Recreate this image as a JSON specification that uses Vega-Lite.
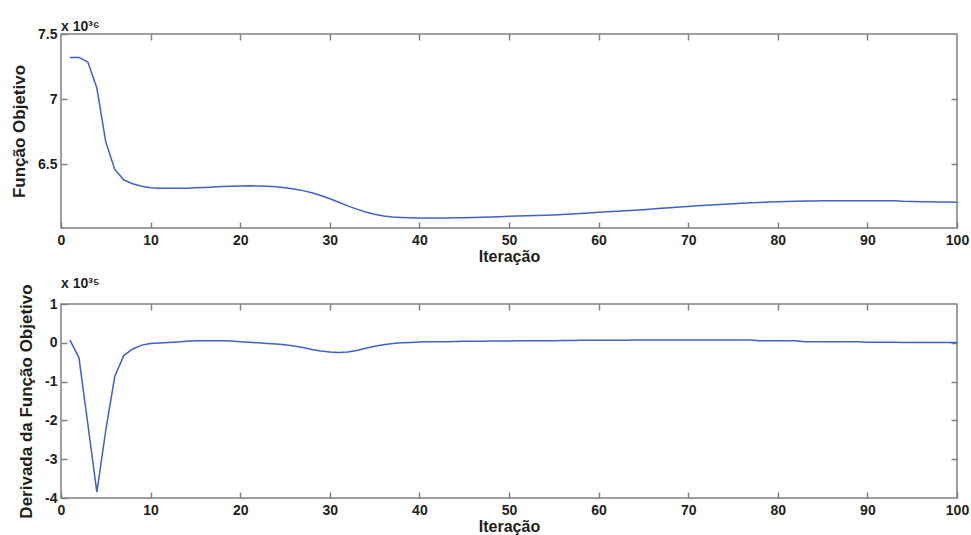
{
  "$schema": "https://vega.github.io/schema/vega-lite/v6.json",
  "background": "white",
  "padding": {"left": 9, "top": 19, "right": 0, "bottom": 0},
  "spacing": 11,
  "config": {
    "font": "Liberation Sans",
    "view": {"stroke": "#808080", "strokeWidth": 1.5},
    "axis": {
      "grid": false,
      "domain": false,
      "labelFont": "Liberation Sans",
      "labelFontWeight": "bold",
      "labelFontSize": 14,
      "labelColor": "#1e1e1e",
      "titleFont": "Liberation Sans",
      "titleFontWeight": "bold",
      "titleFontSize": 17,
      "titleColor": "#1e1e1e",
      "tickColor": "#808080",
      "tickWidth": 1.5,
      "tickSize": -6,
      "labelPadding": 10,
      "labelOverlap": false,
      "labelFlush": false,
      "labelBound": false
    },
    "axisBottom": {"labelPadding": 11, "titlePadding": 1, "titleFontSize": 16},
    "title": {"font": "Liberation Sans", "fontSize": 14, "fontWeight": "bold", "color": "#1e1e1e", "anchor": "start", "frame": "group", "offset": -7}
  },
  "datasets": {
    "fobj": [
      {"it": 1, "f": 7.32}, {"it": 2, "f": 7.32}, {"it": 3, "f": 7.285}, {"it": 4, "f": 7.085},
      {"it": 5, "f": 6.67}, {"it": 6, "f": 6.46}, {"it": 7, "f": 6.38}, {"it": 8, "f": 6.35},
      {"it": 9, "f": 6.33}, {"it": 10, "f": 6.32}, {"it": 11, "f": 6.315}, {"it": 12, "f": 6.315},
      {"it": 13, "f": 6.315}, {"it": 14, "f": 6.315}, {"it": 15, "f": 6.32}, {"it": 16, "f": 6.322},
      {"it": 17, "f": 6.325}, {"it": 18, "f": 6.328}, {"it": 19, "f": 6.331}, {"it": 20, "f": 6.333},
      {"it": 21, "f": 6.334}, {"it": 22, "f": 6.333}, {"it": 23, "f": 6.33}, {"it": 24, "f": 6.326},
      {"it": 25, "f": 6.32}, {"it": 26, "f": 6.31}, {"it": 27, "f": 6.297}, {"it": 28, "f": 6.28},
      {"it": 29, "f": 6.26}, {"it": 30, "f": 6.235}, {"it": 31, "f": 6.208}, {"it": 32, "f": 6.18},
      {"it": 33, "f": 6.155}, {"it": 34, "f": 6.133}, {"it": 35, "f": 6.115}, {"it": 36, "f": 6.102},
      {"it": 37, "f": 6.095}, {"it": 38, "f": 6.091}, {"it": 39, "f": 6.088}, {"it": 40, "f": 6.086},
      {"it": 41, "f": 6.086}, {"it": 42, "f": 6.086}, {"it": 43, "f": 6.087}, {"it": 44, "f": 6.088},
      {"it": 45, "f": 6.089}, {"it": 46, "f": 6.091}, {"it": 47, "f": 6.093}, {"it": 48, "f": 6.095},
      {"it": 49, "f": 6.097}, {"it": 50, "f": 6.1}, {"it": 51, "f": 6.102}, {"it": 52, "f": 6.104},
      {"it": 53, "f": 6.106}, {"it": 54, "f": 6.108}, {"it": 55, "f": 6.11}, {"it": 56, "f": 6.113},
      {"it": 57, "f": 6.117}, {"it": 58, "f": 6.121}, {"it": 59, "f": 6.126}, {"it": 60, "f": 6.131},
      {"it": 61, "f": 6.135}, {"it": 62, "f": 6.139}, {"it": 63, "f": 6.143}, {"it": 64, "f": 6.147},
      {"it": 65, "f": 6.151}, {"it": 66, "f": 6.156}, {"it": 67, "f": 6.161}, {"it": 68, "f": 6.166},
      {"it": 69, "f": 6.171}, {"it": 70, "f": 6.176}, {"it": 71, "f": 6.18}, {"it": 72, "f": 6.184},
      {"it": 73, "f": 6.188}, {"it": 74, "f": 6.192}, {"it": 75, "f": 6.196}, {"it": 76, "f": 6.2},
      {"it": 77, "f": 6.203}, {"it": 78, "f": 6.206}, {"it": 79, "f": 6.209}, {"it": 80, "f": 6.211},
      {"it": 81, "f": 6.213}, {"it": 82, "f": 6.215}, {"it": 83, "f": 6.217}, {"it": 84, "f": 6.218},
      {"it": 85, "f": 6.219}, {"it": 86, "f": 6.22}, {"it": 87, "f": 6.22}, {"it": 88, "f": 6.22},
      {"it": 89, "f": 6.22}, {"it": 90, "f": 6.22}, {"it": 91, "f": 6.22}, {"it": 92, "f": 6.22},
      {"it": 93, "f": 6.22}, {"it": 94, "f": 6.216}, {"it": 95, "f": 6.214}, {"it": 96, "f": 6.212},
      {"it": 97, "f": 6.211}, {"it": 98, "f": 6.21}, {"it": 99, "f": 6.209}, {"it": 100, "f": 6.208}
    ],
    "deriv": [
      {"it": 1, "d": 0.07}, {"it": 2, "d": -0.38}, {"it": 3, "d": -2.1}, {"it": 4, "d": -3.85},
      {"it": 5, "d": -2.25}, {"it": 6, "d": -0.87}, {"it": 7, "d": -0.33}, {"it": 8, "d": -0.16},
      {"it": 9, "d": -0.06}, {"it": 10, "d": -0.02}, {"it": 11, "d": -0.005}, {"it": 12, "d": 0.005},
      {"it": 13, "d": 0.02}, {"it": 14, "d": 0.04}, {"it": 15, "d": 0.05}, {"it": 16, "d": 0.05},
      {"it": 17, "d": 0.05}, {"it": 18, "d": 0.05}, {"it": 19, "d": 0.045}, {"it": 20, "d": 0.03},
      {"it": 21, "d": 0.015}, {"it": 22, "d": 0.0}, {"it": 23, "d": -0.015}, {"it": 24, "d": -0.03},
      {"it": 25, "d": -0.05}, {"it": 26, "d": -0.08}, {"it": 27, "d": -0.12}, {"it": 28, "d": -0.17},
      {"it": 29, "d": -0.21}, {"it": 30, "d": -0.24}, {"it": 31, "d": -0.25}, {"it": 32, "d": -0.24},
      {"it": 33, "d": -0.2}, {"it": 34, "d": -0.14}, {"it": 35, "d": -0.09}, {"it": 36, "d": -0.05},
      {"it": 37, "d": -0.02}, {"it": 38, "d": 0.0}, {"it": 39, "d": 0.01}, {"it": 40, "d": 0.02},
      {"it": 41, "d": 0.025}, {"it": 42, "d": 0.03}, {"it": 43, "d": 0.03}, {"it": 44, "d": 0.035},
      {"it": 45, "d": 0.04}, {"it": 46, "d": 0.04}, {"it": 47, "d": 0.042}, {"it": 48, "d": 0.044},
      {"it": 49, "d": 0.046}, {"it": 50, "d": 0.048}, {"it": 51, "d": 0.05}, {"it": 52, "d": 0.052},
      {"it": 53, "d": 0.053}, {"it": 54, "d": 0.054}, {"it": 55, "d": 0.055}, {"it": 56, "d": 0.06},
      {"it": 57, "d": 0.062}, {"it": 58, "d": 0.064}, {"it": 59, "d": 0.065}, {"it": 60, "d": 0.066},
      {"it": 61, "d": 0.067}, {"it": 62, "d": 0.068}, {"it": 63, "d": 0.068}, {"it": 64, "d": 0.069},
      {"it": 65, "d": 0.07}, {"it": 66, "d": 0.07}, {"it": 67, "d": 0.07}, {"it": 68, "d": 0.07},
      {"it": 69, "d": 0.07}, {"it": 70, "d": 0.072}, {"it": 71, "d": 0.072}, {"it": 72, "d": 0.072},
      {"it": 73, "d": 0.072}, {"it": 74, "d": 0.072}, {"it": 75, "d": 0.072}, {"it": 76, "d": 0.072},
      {"it": 77, "d": 0.072}, {"it": 78, "d": 0.05}, {"it": 79, "d": 0.05}, {"it": 80, "d": 0.05},
      {"it": 81, "d": 0.05}, {"it": 82, "d": 0.05}, {"it": 83, "d": 0.03}, {"it": 84, "d": 0.03},
      {"it": 85, "d": 0.03}, {"it": 86, "d": 0.03}, {"it": 87, "d": 0.03}, {"it": 88, "d": 0.03},
      {"it": 89, "d": 0.03}, {"it": 90, "d": 0.012}, {"it": 91, "d": 0.012}, {"it": 92, "d": 0.011},
      {"it": 93, "d": 0.011}, {"it": 94, "d": 0.01}, {"it": 95, "d": 0.01}, {"it": 96, "d": 0.01},
      {"it": 97, "d": 0.01}, {"it": 98, "d": 0.01}, {"it": 99, "d": 0.01}, {"it": 100, "d": 0.01}
    ]
  },
  "vconcat": [
    {
      "width": 896,
      "height": 194,
      "title": {"text": "x 10³⁶"},
      "data": {"name": "fobj"},
      "layer": [
        {
          "mark": {"type": "line", "color": "#3f62c4", "strokeWidth": 1.5},
          "encoding": {
            "x": {"field": "it", "type": "quantitative", "scale": {"domain": [0, 100], "nice": false},
                  "axis": {"title": "Iteração", "values": [0, 10, 20, 30, 40, 50, 60, 70, 80, 90, 100]}},
            "y": {"field": "f", "type": "quantitative", "scale": {"domain": [6.01, 7.5], "zero": false, "nice": false},
                  "axis": {"title": "Função Objetivo", "values": [6.5, 7, 7.5], "labelExpr": "'' + datum.value", "minExtent": 28, "maxExtent": 28, "titlePadding": 5}}
          }
        },
        {
          "mark": {"type": "line", "strokeOpacity": 0},
          "encoding": {
            "x": {"field": "it", "type": "quantitative",
                  "axis": {"orient": "top", "labels": false, "title": null, "values": [10, 20, 30, 40, 50, 60, 70, 80, 90], "minExtent": 0}},
            "y": {"field": "f", "type": "quantitative",
                  "axis": {"orient": "right", "labels": false, "title": null, "values": [6.5, 7], "minExtent": 0}}
          }
        }
      ],
      "resolve": {"axis": {"x": "independent", "y": "independent"}}
    },
    {
      "width": 896,
      "height": 194,
      "title": {"text": "x 10³⁵"},
      "data": {"name": "deriv"},
      "layer": [
        {
          "mark": {"type": "line", "color": "#3f62c4", "strokeWidth": 1.5},
          "encoding": {
            "x": {"field": "it", "type": "quantitative", "scale": {"domain": [0, 100], "nice": false},
                  "axis": {"title": "Iteração", "values": [0, 10, 20, 30, 40, 50, 60, 70, 80, 90, 100]}},
            "y": {"field": "d", "type": "quantitative", "scale": {"domain": [-4, 1], "nice": false},
                  "axis": {"title": "Derivada da Função Objetivo", "values": [-4, -3, -2, -1, 0, 1], "labelExpr": "'' + datum.value", "minExtent": 28, "maxExtent": 28, "titlePadding": -2}}
          }
        },
        {
          "mark": {"type": "line", "strokeOpacity": 0},
          "encoding": {
            "x": {"field": "it", "type": "quantitative",
                  "axis": {"orient": "top", "labels": false, "title": null, "values": [10, 20, 30, 40, 50, 60, 70, 80, 90], "minExtent": 0}},
            "y": {"field": "d", "type": "quantitative",
                  "axis": {"orient": "right", "labels": false, "title": null, "values": [-3, -2, -1, 0], "minExtent": 0}}
          }
        }
      ],
      "resolve": {"axis": {"x": "independent", "y": "independent"}}
    }
  ]
}
